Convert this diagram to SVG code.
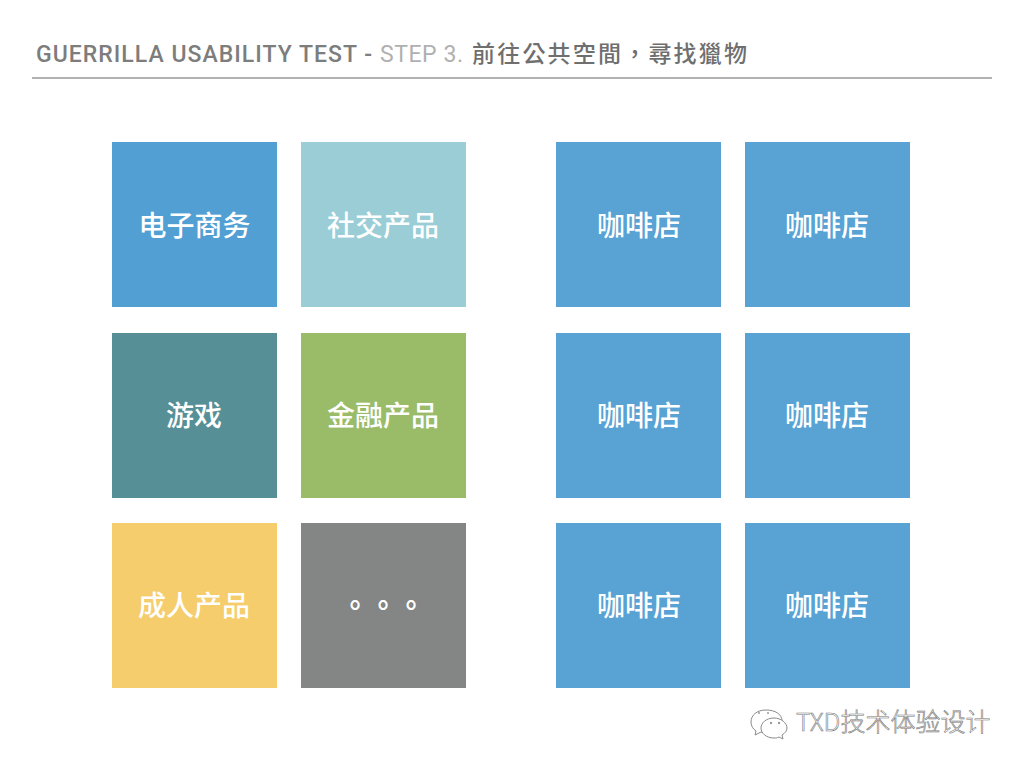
<svg xmlns="http://www.w3.org/2000/svg" width="1024" height="768" viewBox="0 0 1024 768">
<style>
.t{font-family:"Noto Sans CJK SC","Noto Sans CJK TC",sans-serif;font-size:28px;font-weight:500;fill:#fff;text-anchor:middle}
.h{font-family:Roboto,"Noto Sans",sans-serif;font-size:23px;font-weight:500}
.i{fill:#fff;stroke:#8a8a8a;stroke-width:1}
</style>
<rect width="1024" height="768" fill="#fff"/>
<g id="title">
<text class="h" x="36" y="62" fill="#7d7d7d" textLength="336" lengthAdjust="spacing">GUERRILLA USABILITY TEST -</text>
<text class="h" x="380" y="62" fill="#b0b0b0" textLength="83" lengthAdjust="spacing" style="font-weight:400">STEP 3.</text>
<text x="472" y="62" fill="#6f6f6f" style="font-family:'Noto Sans CJK TC',sans-serif;font-size:23px;font-weight:500;letter-spacing:2.200px">前往公共空間，尋找獵物</text>
<rect x="32" y="77" width="960" height="2" fill="#b2b2b2"/>
</g>
<g id="n1"><rect x="112" y="142" width="165" height="165" fill="#52a0d3"/><text class="t" x="194.500" y="236">电子商务</text></g>
<g id="n2"><rect x="301" y="142" width="165" height="165" fill="#9acdd6"/><text class="t" x="383" y="236">社交产品</text></g>
<g id="n3"><rect x="112" y="333" width="165" height="165" fill="#568f96"/><text class="t" x="194" y="426">游戏</text></g>
<g id="n4"><rect x="301" y="333" width="165" height="165" fill="#9abc69"/><text class="t" x="383" y="426">金融产品</text></g>
<g id="n5"><rect x="112" y="523" width="165" height="165" fill="#f5cd6c"/><text class="t" x="194" y="616">成人产品</text></g>
<g id="n6"><rect x="301" y="523" width="165" height="165" fill="#848685"/><text class="t" x="383" y="616" style="font-family:'Noto Sans CJK TC',sans-serif;font-weight:700">。。。</text></g>
<g id="c1"><rect x="556" y="142" width="165" height="165" fill="#58a2d4"/><text class="t" x="639" y="236">咖啡店</text></g>
<g id="c2"><rect x="745" y="142" width="165" height="165" fill="#58a2d4"/><text class="t" x="827" y="236">咖啡店</text></g>
<g id="c3"><rect x="556" y="333" width="165" height="165" fill="#58a2d4"/><text class="t" x="639" y="426">咖啡店</text></g>
<g id="c4"><rect x="745" y="333" width="165" height="165" fill="#58a2d4"/><text class="t" x="827" y="426">咖啡店</text></g>
<g id="c5"><rect x="556" y="523" width="165" height="165" fill="#58a2d4"/><text class="t" x="639" y="616">咖啡店</text></g>
<g id="c6"><rect x="745" y="523" width="165" height="165" fill="#58a2d4"/><text class="t" x="827" y="616">咖啡店</text></g>
<g id="watermark">
<path class="i" d="M766 710c-9 0-15 5-15 12 0 4 2 7 5 9l-1 4 6-3c2 1 4 1 6 1 9 0 15-5 15-12s-7-11-16-11z"/>
<path class="i" d="M774 718c-8 0-13 5-13 10s5 10 13 10c2 0 3 0 5-1l4 2-1-4c3-2 5-4 5-7 0-5-6-10-13-10z"/>
<circle cx="759" cy="713" r="1" fill="#9a9a9a"/><circle cx="768" cy="713" r="1" fill="#9a9a9a"/>
<circle cx="771" cy="723" r="1.200" fill="#9a9a9a"/><circle cx="779" cy="723" r="1.200" fill="#9a9a9a"/>
<text x="796" y="731" style="font-family:'Noto Sans CJK SC',sans-serif;font-size:25px;font-weight:300" fill="#fff" stroke="#777" stroke-width=".6">TXD技术体验设计</text>
</g>
</svg>
